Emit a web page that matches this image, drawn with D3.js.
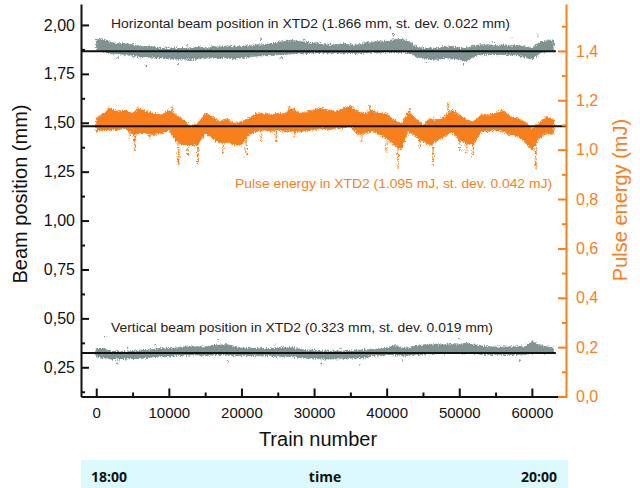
<!DOCTYPE html>
<html>
<head>
<meta charset="utf-8">
<script src="https://cdn.jsdelivr.net/npm/d3@7"></script>
<style>
  body { margin: 0; background: #fff; }
  svg { display: block; font-family: "Liberation Sans", Arial, sans-serif; }
</style>
</head>
<body>
<div id="chart"></div>
<script>
const trains = [0,1000,2000,3000,4000,5000,6000,7000,8000,9000,10000,11000,12000,13000,14000,15000,
  16000,17000,18000,19000,20000,21000,22000,23000,24000,25000,26000,27000,28000,29000,30000,31000,
  32000,33000,34000,35000,36000,37000,38000,39000,40000,41000,42000,43000,44000,45000,46000,47000,
  48000,49000,50000,51000,52000,53000,54000,55000,56000,57000,58000,59000,60000,61000,62000,63000]

// Horizontal beam position (mm), upper / lower edge of the dot band
const hHi = [1.925,1.928,1.911,1.905,1.905,1.899,1.891,1.891,1.888,1.882,1.882,1.882,1.882,1.882,1.888,1.882,
  1.888,1.888,1.891,1.891,1.891,1.894,1.899,1.899,1.905,1.911,1.917,1.922,1.917,1.911,1.908,1.905,
  1.899,1.899,1.905,1.899,1.899,1.908,1.911,1.917,1.917,1.925,1.928,1.917,1.891,1.882,1.882,1.882,
  1.888,1.891,1.882,1.882,1.894,1.899,1.899,1.894,1.899,1.894,1.894,1.891,1.882,1.908,1.922,1.922]
const hLo = [1.871,1.866,1.853,1.853,1.848,1.843,1.836,1.836,1.831,1.831,1.826,1.823,1.826,1.823,1.826,1.831,
  1.831,1.831,1.831,1.826,1.831,1.836,1.840,1.843,1.843,1.848,1.848,1.853,1.853,1.853,1.857,1.857,
  1.857,1.853,1.857,1.857,1.853,1.857,1.860,1.860,1.860,1.860,1.860,1.857,1.840,1.831,1.823,1.823,
  1.831,1.826,1.823,1.814,1.836,1.848,1.848,1.848,1.848,1.848,1.843,1.836,1.826,1.853,1.866,1.866]

// Pulse energy (mJ)
const pHi = [1.127,1.147,1.168,1.154,1.161,1.147,1.165,1.154,1.147,1.141,1.161,1.141,1.120,1.093,1.107,1.147,
  1.134,1.114,1.127,1.107,1.114,1.127,1.147,1.147,1.141,1.147,1.147,1.168,1.147,1.154,1.161,1.168,
  1.161,1.154,1.168,1.178,1.154,1.147,1.161,1.147,1.147,1.120,1.107,1.154,1.127,1.100,1.127,1.120,
  1.134,1.161,1.141,1.120,1.114,1.141,1.141,1.147,1.161,1.134,1.127,1.114,1.087,1.107,1.134,1.120]
const pLo = [1.073,1.080,1.080,1.080,1.087,1.060,1.066,1.066,1.060,1.066,1.080,1.032,1.019,1.019,1.019,1.066,
  1.046,1.025,1.032,1.019,1.019,1.060,1.073,1.080,1.073,1.080,1.073,1.073,1.073,1.076,1.080,1.087,
  1.080,1.087,1.087,1.093,1.060,1.066,1.073,1.060,1.046,1.019,0.999,1.073,1.053,1.032,1.019,1.039,
  1.053,1.073,1.039,1.025,1.019,1.073,1.073,1.080,1.073,1.060,1.053,1.032,0.999,1.046,1.066,1.060]
// short drops and jumps of the pulse energy: [train, mJ]
const pDips = [[4600,1.046],[5290,0.999],[7350,1.039],[11340,0.938],[12630,0.978],[14000,0.938],
  [17450,0.985],[20650,0.972],[22720,1.032],[24780,1.032],[27300,1.053],[36540,1.032],[39980,0.985],
  [41590,0.924],[44570,1.006],[46400,0.938],[50080,0.999],[51000,0.985],[51910,0.965],[60540,0.924]]
const pPeaks = [[1700,1.174],[5700,1.174],[10500,1.174],[26600,1.181],[37690,1.181],[43190,1.170],
  [48470,1.191],[55820,1.164]]

// Vertical beam position (mm)
const vHi = [0.347,0.344,0.333,0.330,0.330,0.333,0.338,0.338,0.344,0.347,0.347,0.350,0.355,0.355,0.355,0.355,
  0.361,0.364,0.367,0.355,0.350,0.350,0.347,0.347,0.347,0.350,0.350,0.350,0.344,0.338,0.338,0.333,
  0.333,0.333,0.333,0.333,0.338,0.338,0.344,0.344,0.350,0.364,0.350,0.350,0.361,0.364,0.367,0.367,
  0.367,0.367,0.367,0.373,0.367,0.361,0.355,0.355,0.355,0.355,0.355,0.355,0.381,0.367,0.355,0.350]
const vLo = [0.304,0.299,0.292,0.292,0.292,0.296,0.296,0.299,0.303,0.304,0.304,0.309,0.309,0.313,0.313,0.309,
  0.313,0.313,0.313,0.309,0.309,0.309,0.309,0.309,0.309,0.304,0.304,0.304,0.299,0.296,0.296,0.292,
  0.292,0.292,0.296,0.296,0.296,0.299,0.309,0.309,0.313,0.313,0.309,0.309,0.316,0.316,0.320,0.320,
  0.322,0.322,0.322,0.322,0.322,0.316,0.316,0.316,0.316,0.316,0.316,0.316,0.322,0.322,0.322,0.322]

// stray dots outside the bands: [train, mm]
const hStray = [[2990,1.831],[6890,1.789],[11250,1.797],[12630,1.894],[22720,1.928],[25470,1.831],
  [28700,1.928],[40900,1.950],[42730,1.934],[45490,1.806],[50540,1.797],[54670,1.917],[57190,1.934],[60860,1.946]]
const vStray = [[1150,0.406],[2990,0.270],[4370,0.347],[8040,0.364],[16760,0.390],[18140,0.279],
  [24570,0.364],[30990,0.270],[33550,0.347],[36310,0.261],[42280,0.287],[50080,0.398],[58340,0.287]]

// means and the train range their lines cover
const hMean = 1.866, pMean = 1.095, vMean = 0.323
const meanSpan = [-2100, 63300]
const pMeanSpan = [-2100, 64700]

// ticks
const xTicks = [0,10000,20000,30000,40000,50000,60000]
const xMinor = [5000,15000,25000,35000,45000,55000]
const leftTicks = [0.25,0.50,0.75,1.00,1.25,1.50,1.75,2.00]
const leftMinor = [0.125,0.375,0.625,0.875,1.125,1.375,1.625,1.875]
const rightTicks = [0,0.2,0.4,0.6,0.8,1.0,1.2,1.4]
const rightMinor = [0.1,0.3,0.5,0.7,0.9,1.1,1.3,1.5]

const GREY = "#7f9393"
const ORANGE = "#f7801e"

function draw() {
  const width = 640, height = 488

  const svg = d3.select("#chart")
    .append("svg")
    .attr("width", width)
    .attr("height", height)

  // grainy look for the dense dot clouds
  const filter = svg.append("defs").append("filter")
    .attr("id", "grain")
    .attr("x", "-5%").attr("y", "-50%")
    .attr("width", "110%").attr("height", "200%")
  filter.append("feTurbulence")
    .attr("type", "fractalNoise")
    .attr("baseFrequency", "0.9 0.6")
    .attr("numOctaves", 1)
    .attr("seed", 3)
    .attr("result", "noise")
  filter.append("feDisplacementMap")
    .attr("in", "SourceGraphic")
    .attr("in2", "noise")
    .attr("scale", 5)
    .attr("xChannelSelector", "R")
    .attr("yChannelSelector", "G")

  const xScale = d3.scaleLinear().domain([-2100, 64700]).range([81, 566])
  const yLeft = d3.scaleLinear().domain([0.1007, 2.107]).range([396.5, 4])
  const yRight = d3.scaleLinear().domain([0, 1.59]).range([396.5, 4])

  const dataLayer = svg.append("g").attr("filter", "url(#grain)")

  // bands
  const band = (hi, lo, y) => d3.area()
    .x((d, i) => xScale(trains[i]))
    .y0((d, i) => y(lo[i]))
    .y1((d, i) => y(hi[i]))(trains)

  const drawBand = (hi, lo, y, color) => {
    dataLayer.append("path")
      .attr("d", band(hi, lo, y))
      .attr("fill", color)
      .attr("stroke", color)
      .attr("stroke-width", 1.2)
      .attr("stroke-dasharray", "1 1")
  }

  drawBand(hHi, hLo, yLeft, GREY)
  drawBand(vHi, vLo, yLeft, GREY)
  drawBand(pHi, pLo, yRight, ORANGE)

  // drops / jumps of the pulse energy
  dataLayer.append("g")
    .selectAll("line")
    .data(pDips.concat(pPeaks))
    .join("line")
    .attr("x1", d => xScale(d[0]))
    .attr("x2", d => xScale(d[0]))
    .attr("y1", yRight(pMean))
    .attr("y2", d => yRight(d[1]))
    .attr("stroke", ORANGE)
    .attr("stroke-width", 1.8)
    .attr("stroke-dasharray", "1.5 0.8")

  dataLayer.append("g")
    .selectAll("circle")
    .data(hStray.concat(vStray))
    .join("circle")
    .attr("cx", d => xScale(d[0]))
    .attr("cy", d => yLeft(d[1]))
    .attr("r", 0.9)
    .attr("fill", GREY)

  // mean lines
  const meanLine = (v, y, span) => svg.append("line")
    .attr("x1", xScale(span[0]))
    .attr("x2", xScale(span[1]))
    .attr("y1", y(v))
    .attr("y2", y(v))
    .attr("stroke", "#111")
    .attr("stroke-width", 2)
  meanLine(hMean, yLeft, meanSpan)
  meanLine(vMean, yLeft, meanSpan)
  meanLine(pMean, yRight, pMeanSpan)

  // Axes
  const comma = (digits) => (d) => d.toFixed(digits).replace(".", ",")

  const styleAxis = (g, color, size) => {
    g.selectAll("path.domain").attr("stroke", color).attr("stroke-width", 2)
    g.selectAll(".tick line").attr("stroke", color).attr("stroke-width", 2)
    g.selectAll(".tick text").attr("fill", color).style("font-size", size + "px")
      .style("font-family", "Liberation Sans, Arial, sans-serif")
  }

  const xAxisGroup = svg.append("g")
    .attr("transform", "translate(0,396.5)")
    .call(d3.axisBottom(xScale).tickValues(xTicks).tickFormat(d3.format("d"))
      .tickSizeInner(-8).tickSizeOuter(0).tickPadding(11))
  styleAxis(xAxisGroup, "#111", 15)
  svg.append("g")
    .attr("transform", "translate(0,396.5)")
    .call(d3.axisBottom(xScale).tickValues(xMinor).tickFormat("").tickSize(-4))
    .call(g => g.select(".domain").remove())
    .call(g => g.selectAll(".tick line").attr("stroke", "#111").attr("stroke-width", 2))

  const yAxisGroup = svg.append("g")
    .attr("transform", "translate(81,0)")
    .call(d3.axisLeft(yLeft).tickValues(leftTicks).tickFormat(comma(2))
      .tickSizeInner(-8).tickSizeOuter(0).tickPadding(6))
  styleAxis(yAxisGroup, "#111", 16)
  svg.append("g")
    .attr("transform", "translate(81,0)")
    .call(d3.axisLeft(yLeft).tickValues(leftMinor).tickFormat("").tickSize(-4))
    .call(g => g.select(".domain").remove())
    .call(g => g.selectAll(".tick line").attr("stroke", "#111").attr("stroke-width", 2))

  const rAxisGroup = svg.append("g")
    .attr("transform", "translate(566,0)")
    .call(d3.axisRight(yRight).tickValues(rightTicks).tickFormat(comma(1))
      .tickSizeInner(-8).tickSizeOuter(0).tickPadding(10))
  styleAxis(rAxisGroup, ORANGE, 16)
  svg.append("g")
    .attr("transform", "translate(566,0)")
    .call(d3.axisRight(yRight).tickValues(rightMinor).tickFormat("").tickSize(-4))
    .call(g => g.select(".domain").remove())
    .call(g => g.selectAll(".tick line").attr("stroke", ORANGE).attr("stroke-width", 2))

  // Axis titles
  svg.append("text")
    .attr("transform", "translate(27,194) rotate(-90)")
    .attr("text-anchor", "middle")
    .style("font-size", "20px")
    .attr("fill", "#111")
    .text("Beam position (mm)")

  svg.append("text")
    .attr("transform", "translate(627,200) rotate(-90)")
    .attr("text-anchor", "middle")
    .style("font-size", "20px")
    .attr("fill", ORANGE)
    .text("Pulse energy (mJ)")

  svg.append("text")
    .attr("x", 318)
    .attr("y", 446)
    .attr("text-anchor", "middle")
    .style("font-size", "20px")
    .attr("fill", "#111")
    .text("Train number")

  // series labels
  const label = (x, y, len, color, txt) => svg.append("text")
    .attr("x", x).attr("y", y)
    .attr("textLength", len)
    .attr("lengthAdjust", "spacingAndGlyphs")
    .style("font-size", "13.5px")
    .attr("fill", color)
    .text(txt)
  label(111, 28, 399, "#222", "Horizontal beam position in XTD2 (1.866 mm, st. dev. 0.022 mm)")
  label(235, 188, 317, ORANGE, "Pulse energy in XTD2 (1.095 mJ, st. dev. 0.042 mJ)")
  label(111, 332, 382, "#222", "Vertical beam position in XTD2 (0.323 mm, st. dev. 0.019 mm)")

  // time bar
  const bar = svg.append("g")
  bar.append("rect")
    .attr("x", 81).attr("y", 460)
    .attr("width", 487).attr("height", 28)
    .attr("fill", "#dcfafd")
  const barText = (x, anchor, txt) => bar.append("text")
    .attr("x", x).attr("y", 482)
    .attr("text-anchor", anchor)
    .style("font-family", "'Open Sans', sans-serif")
    .style("font-weight", "bold")
    .style("font-size", "14px")
    .attr("fill", "#111")
    .text(txt)
  barText(91, "start", "18:00")
  barText(325, "middle", "time")
  barText(557, "end", "20:00")
}

draw()
</script>
</body>
</html>
